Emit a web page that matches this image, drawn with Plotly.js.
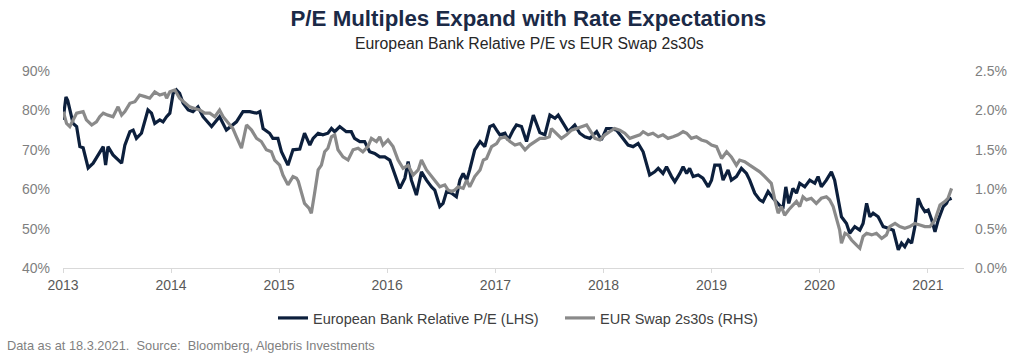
<!DOCTYPE html>
<html>
<head>
<meta charset="utf-8">
<script src="https://cdn.plot.ly/plotly-3.0.1.min.js"></script>
<style>html,body{margin:0;padding:0;background:#fff;}#chart{width:1024px;height:358px;}</style>
</head>
<body>
<div id="chart"></div>
<script>
// European Bank Relative P/E (LHS, %), time in decimal years
const peTime = [2013.000,2013.028,2013.046,2013.074,2013.095,2013.127,2013.157,2013.188,2013.234,2013.280,2013.342,2013.373,2013.395,2013.419,2013.465,2013.512,2013.543,2013.574,2013.620,2013.650,2013.682,2013.728,2013.789,2013.821,2013.851,2013.897,2013.928,2013.959,2013.990,2014.020,2014.052,2014.082,2014.113,2014.159,2014.205,2014.252,2014.298,2014.376,2014.452,2014.514,2014.607,2014.668,2014.730,2014.792,2014.822,2014.853,2014.915,2014.945,2014.991,2015.023,2015.084,2015.130,2015.192,2015.238,2015.285,2015.316,2015.362,2015.408,2015.454,2015.486,2015.516,2015.562,2015.624,2015.671,2015.701,2015.748,2015.794,2015.840,2015.886,2015.933,2015.979,2016.025,2016.071,2016.118,2016.164,2016.194,2016.226,2016.272,2016.318,2016.365,2016.411,2016.441,2016.488,2016.518,2016.550,2016.596,2016.642,2016.673,2016.703,2016.735,2016.765,2016.811,2016.858,2016.904,2016.950,2016.981,2017.012,2017.043,2017.089,2017.119,2017.166,2017.197,2017.243,2017.290,2017.351,2017.413,2017.459,2017.505,2017.551,2017.582,2017.628,2017.675,2017.736,2017.783,2017.829,2017.875,2017.937,2017.983,2018.030,2018.076,2018.122,2018.183,2018.230,2018.276,2018.322,2018.368,2018.400,2018.430,2018.476,2018.507,2018.553,2018.585,2018.631,2018.661,2018.708,2018.738,2018.770,2018.800,2018.831,2018.877,2018.923,2018.970,2019.001,2019.032,2019.078,2019.108,2019.155,2019.186,2019.232,2019.279,2019.325,2019.355,2019.402,2019.448,2019.478,2019.525,2019.571,2019.633,2019.661,2019.689,2019.716,2019.756,2019.787,2019.818,2019.864,2019.910,2019.957,2019.987,2020.019,2020.065,2020.111,2020.142,2020.172,2020.204,2020.250,2020.280,2020.327,2020.373,2020.404,2020.435,2020.466,2020.496,2020.542,2020.589,2020.635,2020.681,2020.727,2020.759,2020.789,2020.820,2020.851,2020.881,2020.912,2020.944,2020.974,2021.005,2021.036,2021.067,2021.097,2021.144,2021.174,2021.189,2021.221];
const peValue = [77.6,83.4,82.5,79.0,76.7,75.9,70.8,70.5,65.4,66.6,69.5,70.8,66.1,70.8,68.7,67.4,66.6,71.2,74.6,75.0,72.9,74.2,80.1,79.3,76.7,77.6,77.1,78.4,79.3,84.3,85.2,84.3,81.8,80.1,79.7,80.9,78.4,75.9,78.4,75.0,77.1,79.7,79.7,79.3,79.7,75.4,74.2,72.9,72.9,69.5,66.1,70.0,70.2,74.2,71.2,72.9,74.2,73.8,74.2,75.4,74.6,75.9,74.6,74.6,72.9,72.1,72.1,69.5,69.1,68.2,68.2,67.4,64.0,60.2,62.8,67.0,62.3,58.5,64.4,62.3,60.6,59.8,55.6,56.4,59.4,59.0,58.1,62.3,64.0,62.3,64.9,70.0,72.1,70.8,75.9,76.3,75.0,73.8,74.2,72.5,75.0,76.3,75.9,72.1,78.8,74.4,73.8,78.8,78.0,78.8,76.7,74.6,76.3,74.2,73.3,72.9,74.6,72.5,75.4,75.4,75.0,72.9,71.2,70.8,71.6,69.5,66.6,63.6,64.4,65.3,64.0,65.7,63.2,61.9,64.0,65.7,64.0,65.3,63.2,63.6,62.8,60.6,62.3,66.1,66.1,62.3,64.9,62.3,63.2,65.3,64.0,62.3,59.0,57.3,56.8,59.4,57.7,55.6,55.0,60.6,56.4,60.2,59.0,61.5,60.6,62.3,61.5,63.2,60.6,62.3,64.4,62.3,57.7,53.0,51.3,48.8,50.5,49.6,51.3,56.4,53.0,53.9,53.0,50.5,50.1,49.6,44.6,46.3,45.4,47.1,46.3,50.5,57.7,55.6,54.3,54.7,52.2,49.2,52.2,55.6,56.4,57.3,57.7];

// EUR Swap 2s30s (RHS, %), time in decimal years
const swapTime = [2013.003,2013.034,2013.065,2013.095,2013.127,2013.188,2013.219,2013.266,2013.312,2013.342,2013.373,2013.419,2013.465,2013.512,2013.543,2013.574,2013.620,2013.666,2013.712,2013.759,2013.805,2013.851,2013.897,2013.944,2013.959,2013.990,2014.036,2014.082,2014.129,2014.175,2014.221,2014.267,2014.314,2014.360,2014.406,2014.452,2014.483,2014.529,2014.575,2014.607,2014.653,2014.699,2014.746,2014.792,2014.838,2014.884,2014.931,2014.961,2015.007,2015.038,2015.084,2015.130,2015.162,2015.180,2015.210,2015.238,2015.277,2015.301,2015.331,2015.362,2015.393,2015.424,2015.454,2015.486,2015.516,2015.547,2015.593,2015.639,2015.686,2015.732,2015.778,2015.824,2015.856,2015.902,2015.933,2015.963,2016.009,2016.056,2016.102,2016.148,2016.194,2016.241,2016.287,2016.318,2016.365,2016.411,2016.441,2016.488,2016.534,2016.564,2016.596,2016.626,2016.657,2016.703,2016.735,2016.765,2016.811,2016.858,2016.888,2016.919,2016.965,2017.012,2017.043,2017.089,2017.135,2017.181,2017.228,2017.274,2017.320,2017.366,2017.413,2017.459,2017.499,2017.520,2017.567,2017.613,2017.659,2017.706,2017.752,2017.798,2017.844,2017.875,2017.922,2017.968,2018.014,2018.060,2018.106,2018.153,2018.199,2018.245,2018.291,2018.338,2018.368,2018.414,2018.460,2018.507,2018.553,2018.599,2018.646,2018.692,2018.738,2018.770,2018.816,2018.862,2018.909,2018.955,2019.001,2019.047,2019.094,2019.140,2019.186,2019.232,2019.263,2019.309,2019.355,2019.402,2019.448,2019.494,2019.525,2019.556,2019.587,2019.617,2019.649,2019.679,2019.716,2019.741,2019.787,2019.818,2019.848,2019.880,2019.926,2019.972,2020.019,2020.065,2020.095,2020.126,2020.157,2020.188,2020.204,2020.235,2020.265,2020.296,2020.342,2020.373,2020.404,2020.435,2020.481,2020.527,2020.574,2020.620,2020.650,2020.697,2020.743,2020.789,2020.835,2020.881,2020.927,2020.974,2021.020,2021.067,2021.113,2021.159,2021.189,2021.221];
const swapValue = [1.985,1.835,1.795,1.88,1.965,1.985,1.88,1.815,1.855,1.92,1.965,1.94,1.92,2.045,1.94,1.985,2.09,2.11,2.195,2.175,2.155,2.235,2.195,2.215,2.155,2.235,2.26,2.155,2.09,2.045,2.025,2.005,1.965,1.965,1.92,2.005,1.92,1.835,1.77,1.665,1.52,1.815,1.75,1.645,1.605,1.5,1.475,1.37,1.305,1.18,1.055,1.16,1.14,1.10,0.95,0.82,0.76,0.695,0.95,1.245,1.305,1.475,1.52,1.665,1.69,1.5,1.41,1.37,1.5,1.52,1.475,1.54,1.645,1.605,1.665,1.56,1.625,1.54,1.37,1.265,1.305,1.18,1.245,1.37,1.245,1.16,1.115,1.03,1.055,0.99,0.97,0.99,1.03,1.01,1.115,1.03,1.16,1.245,1.37,1.39,1.54,1.58,1.645,1.665,1.605,1.56,1.58,1.5,1.56,1.605,1.645,1.645,1.665,1.77,1.71,1.645,1.69,1.75,1.77,1.795,1.815,1.75,1.645,1.625,1.69,1.73,1.77,1.75,1.71,1.645,1.665,1.69,1.73,1.69,1.71,1.665,1.69,1.645,1.665,1.69,1.73,1.71,1.645,1.665,1.625,1.605,1.56,1.54,1.39,1.475,1.41,1.305,1.37,1.35,1.305,1.265,1.22,1.16,1.115,1.075,0.865,0.695,0.78,0.67,0.74,0.78,0.845,0.78,0.905,0.865,0.885,0.82,0.885,0.905,0.865,0.78,0.61,0.48,0.315,0.44,0.42,0.355,0.29,0.25,0.40,0.44,0.42,0.44,0.375,0.42,0.525,0.565,0.525,0.505,0.525,0.565,0.545,0.525,0.525,0.61,0.80,0.845,0.885,1.01];

const leftTicks = [40,50,60,70,80,90];
const rightTicks = [0,0.5,1.0,1.5,2.0,2.5];
const yearTicks = [2013,2014,2015,2016,2017,2018,2019,2020,2021];

function toDate(t){
  const y = Math.floor(t);
  const s = Date.UTC(y,0,1), e = Date.UTC(y+1,0,1);
  return new Date(s + (t - y) * (e - s)).toISOString().slice(0,10);
}

const font = 'Arial, "Liberation Sans", sans-serif';
// plot area: top 71, bottom 268 (height 197), left 63, right 964 (width 901)
const pyPaper = px => (268 - px) / 197;
const pxPaper = px => (px - 63) / 901;

const traces = [
  {x: peTime.map(toDate), y: peValue, type:'scatter', mode:'lines', name:'European Bank Relative P/E (LHS)',
   line:{color:'#0c1f3c', width:3.2}, yaxis:'y'},
  {x: swapTime.map(toDate), y: swapValue, type:'scatter', mode:'lines', name:'EUR Swap 2s30s (RHS)',
   line:{color:'#8a8a8a', width:3.2}, yaxis:'y2'}
];

const layout = {
  width:1024, height:358,
  margin:{l:63, r:60, t:71, b:90},
  paper_bgcolor:'#ffffff', plot_bgcolor:'#ffffff',
  font:{family:font, color:'#595959'},
  title:{text:'<b>P/E Multiples Expand with Rate Expectations</b>', font:{family:font, size:22.3, color:'#1b2a47'},
         x:0.516, xanchor:'center', y:0.949, yanchor:'middle', xref:'container', yref:'container'},
  showlegend:true,
  legend:{orientation:'h', x:pxPaper(273), xanchor:'left', y:pyPaper(318), yanchor:'middle',
          font:{family:font, size:14.5, color:'#404040'}, itemwidth:30, entrywidth:242, tracegroupgap:0},
  xaxis:{type:'date', range:['2013-01-01','2021-05-03'],
         tickvals: yearTicks.map(y => y + '-01-01'), ticktext: yearTicks.map(String),
         showgrid:false, zeroline:false, showline:true, linecolor:'#d9d9d9', linewidth:1,
         ticks:'outside', ticklen:4, tickcolor:'#d9d9d9',
         tickfont:{family:font, size:14, color:'#595959'}},
  yaxis:{range:[40,90], tickvals:leftTicks, ticktext:leftTicks.map(v => v + '%'),
         showgrid:false, zeroline:false, showline:false, ticks:'', ticklabelstandoff:12,
         tickfont:{family:font, size:14, color:'#7f7f7f'}},
  yaxis2:{range:[0,2.5], overlaying:'y', side:'right', tickvals:rightTicks, ticktext:rightTicks.map(v => v.toFixed(1) + '%'),
          showgrid:false, zeroline:false, showline:false, ticks:'', ticklabelstandoff:10,
          tickfont:{family:font, size:14, color:'#7f7f7f'}},
  annotations:[
    {text:'European Bank Relative P/E vs EUR Swap 2s30s', xref:'paper', yref:'paper', x:pxPaper(529), y:pyPaper(44),
     xanchor:'center', yanchor:'middle', showarrow:false, font:{family:font, size:15.8, color:'#262626'}},
    {text:'Data as at 18.3.2021.  Source:  Bloomberg, Algebris Investments', xref:'paper', yref:'paper',
     x:pxPaper(5), y:pyPaper(345), xanchor:'left', yanchor:'middle', showarrow:false,
     font:{family:font, size:12.8, color:'#7f7f7f'}}
  ]
};

Plotly.newPlot('chart', traces, layout, {displayModeBar:false, staticPlot:true});
</script>
</body>
</html>
